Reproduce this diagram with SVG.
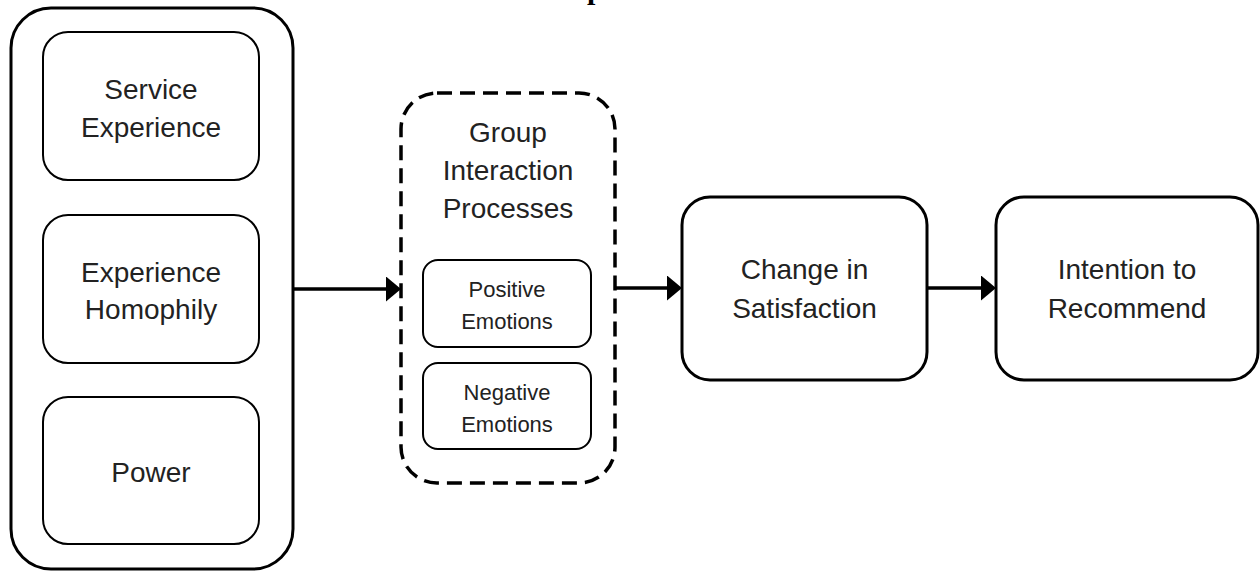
<svg xmlns="http://www.w3.org/2000/svg" width="1260" height="572" viewBox="0 0 1260 572">
  <defs>
    <style>
      .box { fill: #ffffff; stroke: #000000; stroke-width: 3; }
      .inner { fill: #ffffff; stroke: #000000; stroke-width: 2; }
      .dash { fill: #ffffff; stroke: #000000; stroke-width: 3.5; stroke-dasharray: 15 8; }
      .lbl { font-family: "Liberation Sans", Arial, sans-serif; font-size: 28px; fill: #222222; text-anchor: middle; }
      .sm { font-family: "Liberation Sans", Arial, sans-serif; font-size: 22px; fill: #222222; text-anchor: middle; }
      .conn { stroke: #000000; stroke-width: 3.5; fill: none; marker-end: url(#arrow); }
      .title { font-family: "Liberation Serif", "Times New Roman", serif; font-size: 30px; font-weight: bold; fill: #000000; }
    </style>
    <marker id="arrow" markerUnits="userSpaceOnUse" markerWidth="16" markerHeight="26" refX="1" refY="12.5" orient="auto">
      <path d="M0,0 L15,12.5 L0,25 Z" fill="#000000"/>
    </marker>
  </defs>
  <rect width="1260" height="572" fill="#ffffff"/>

  <text class="title" x="587" y="-1.5">p</text>

  <g id="antecedents">
    <rect class="box" x="11" y="8" width="282" height="561" rx="40" ry="40"/>
    <g id="service-experience">
      <rect class="inner" x="43" y="32" width="216" height="148" rx="25" ry="25"/>
      <text class="lbl" x="151" y="99">Service</text>
      <text class="lbl" x="151" y="137">Experience</text>
    </g>
    <g id="experience-homophily">
      <rect class="inner" x="43" y="215" width="216" height="148" rx="25" ry="25"/>
      <text class="lbl" x="151" y="282">Experience</text>
      <text class="lbl" x="151" y="319">Homophily</text>
    </g>
    <g id="power">
      <rect class="inner" x="43" y="397" width="216" height="147" rx="25" ry="25"/>
      <text class="lbl" x="151" y="482">Power</text>
    </g>
  </g>

  <g id="group-interaction">
    <rect class="dash" x="401" y="93" width="214" height="390" rx="36" ry="36"/>
    <text class="lbl" x="508" y="142">Group</text>
    <text class="lbl" x="508" y="180">Interaction</text>
    <text class="lbl" x="508" y="218">Processes</text>
    <g id="positive-emotions">
      <rect class="inner" x="423" y="260" width="168" height="87" rx="15" ry="15"/>
      <text class="sm" x="507" y="297">Positive</text>
      <text class="sm" x="507" y="329">Emotions</text>
    </g>
    <g id="negative-emotions">
      <rect class="inner" x="423" y="363" width="168" height="86" rx="15" ry="15"/>
      <text class="sm" x="507" y="400">Negative</text>
      <text class="sm" x="507" y="432">Emotions</text>
    </g>
  </g>

  <g id="change-in-satisfaction">
    <rect class="box" x="682" y="197" width="245" height="183" rx="28" ry="28"/>
    <text class="lbl" x="804.5" y="279">Change in</text>
    <text class="lbl" x="804.5" y="318">Satisfaction</text>
  </g>

  <g id="intention-to-recommend">
    <rect class="box" x="996" y="197" width="262" height="183" rx="28" ry="28"/>
    <text class="lbl" x="1127" y="279">Intention to</text>
    <text class="lbl" x="1127" y="318">Recommend</text>
  </g>

  <g id="connectors">
    <line class="conn" x1="294" y1="289" x2="387" y2="289"/>
    <line class="conn" x1="616" y1="288" x2="668" y2="288"/>
    <line class="conn" x1="928" y1="288" x2="982" y2="288"/>
  </g>
</svg>
